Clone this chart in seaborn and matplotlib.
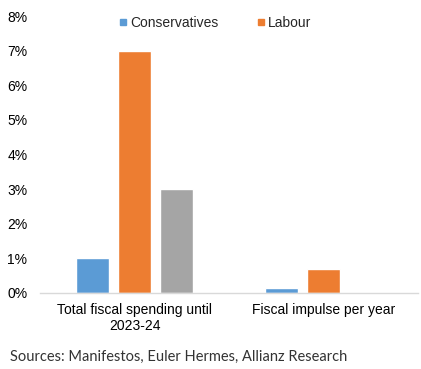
import matplotlib
matplotlib.use("Agg")
import matplotlib.pyplot as plt
import matplotlib.ticker as mtick
from matplotlib.lines import Line2D
import seaborn as sns
import pandas as pd

# data (% of GDP)
categories = ["Total fiscal spending until\n2023-24", "Fiscal impulse per year"]
parties = ["Conservatives", "Labour", "Other"]
conservatives = [1.0, 0.15]
labour = [7.0, 0.7]
other = [3.0, 0.0]

colors = ["#5B9BD5", "#ED7D31", "#A5A5A5"]

df = pd.DataFrame({
    "category": categories * 3,
    "party": [p for p in parties for _ in categories],
    "value": conservatives + labour + other,
})

sns.set_theme(style="white")
plt.rcParams["font.family"] = ["Liberation Sans", "DejaVu Sans"]

fig = plt.figure(figsize=(4.21, 3.69), dpi=100)
ax = fig.add_axes([40 / 421, 1 - 293 / 369, 378 / 421, 277 / 369])

sns.barplot(data=df, x="category", y="value", hue="party", palette=colors,
            width=0.667, gap=0.21, ax=ax, legend=False, saturation=1)

ax.set_ylim(0, 8)
ax.set_xlim(-0.5, 1.5)
ax.yaxis.set_major_formatter(mtick.FuncFormatter(lambda v, p: f"{v:.0f}%"))
ax.set_yticks(range(0, 9))
ax.set_xlabel("")
ax.set_ylabel("")
for s in ["top", "right", "left"]:
    ax.spines[s].set_visible(False)
ax.spines["bottom"].set_color("#D9D9D9")
ax.spines["bottom"].set_linewidth(1)
ax.tick_params(axis="both", length=0, labelsize=10, colors="#000000")
ax.tick_params(axis="y", pad=9)
ax.tick_params(axis="x", pad=7)

handles = [Line2D([], [], marker="s", linestyle="", color=c, markersize=5)
           for c in colors[:2]]
ax.legend(handles, parties[:2], loc="upper center", bbox_to_anchor=(0.46, 1.045),
          ncol=2, frameon=False, fontsize=10, handletextpad=0.0,
          columnspacing=2.6, handlelength=1.0)

fig.text(10 / 421, 1 - 357 / 369, "Sources: Manifestos, Euler Hermes, Allianz Research",
         fontsize=10.5, family=["Lato", "DejaVu Sans"], color="#333333", va="center")

fig.savefig("out.png", dpi=100)
